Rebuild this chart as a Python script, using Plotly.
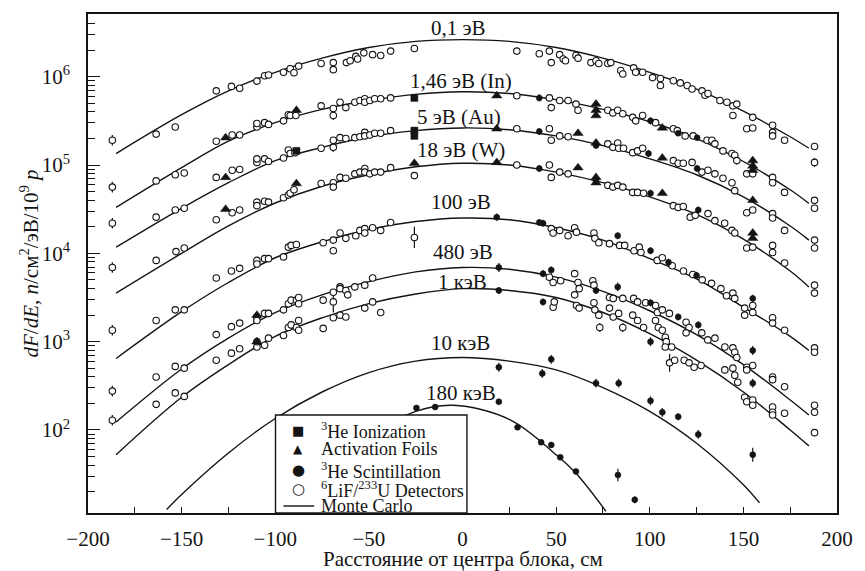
import plotly.graph_objects as go

# ---------------- Monte Carlo curves (x in cm, y as log10 of flux) ----------------
mc_x = [-185, -150, -125, -100, -75, -50, -25, 0, 25, 50, 75, 100, 125, 150, 175, 185]
mc_01 = [5.13, 5.57, 5.84, 6.05, 6.21, 6.33, 6.40, 6.42, 6.40, 6.33, 6.21, 6.05, 5.86, 5.61, 5.32, 5.19]
mc_146 = [4.52, 4.97, 5.27, 5.48, 5.63, 5.73, 5.80, 5.83, 5.81, 5.74, 5.63, 5.49, 5.30, 5.04, 4.72, 4.565]
mc_5 = [4.07, 4.51, 4.80, 5.05, 5.20, 5.32, 5.39, 5.42, 5.40, 5.33, 5.22, 5.07, 4.89, 4.64, 4.31, 4.15]
mc_18 = [3.55, 4.00, 4.31, 4.57, 4.76, 4.89, 4.98, 5.02, 5.00, 4.92, 4.80, 4.64, 4.44, 4.16, 3.80, 3.62]
mc_100 = [2.81, 3.34, 3.67, 3.95, 4.13, 4.27, 4.36, 4.40, 4.38, 4.29, 4.15, 3.94, 3.71, 3.39, 3.06, 2.90]
mc_480 = [2.09, 2.69, 3.04, 3.33, 3.53, 3.68, 3.79, 3.84, 3.82, 3.73, 3.57, 3.35, 3.08, 2.74, 2.34, 2.17]
mc_1k = [1.72, 2.37, 2.74, 3.06, 3.27, 3.43, 3.54, 3.60, 3.58, 3.50, 3.33, 3.09, 2.79, 2.43, 2.00, 1.82]
mc_10k_x = [-158, -150, -125, -100, -75, -50, -25, 0, 25, 50, 75, 100, 125, 150, 158.6]
mc_10k = [1.10, 1.27, 1.74, 2.13, 2.43, 2.65, 2.78, 2.82, 2.78, 2.68, 2.48, 2.21, 1.85, 1.38, 1.175]
mc_180k_x = [-90, -75, -50, -25, -5, 25, 50, 60.6, 76.6]
mc_180k = [0.98, 1.40, 1.92, 2.21, 2.28, 2.12, 1.72, 1.51, 1.08]

# ---------------- measured points: (x, log10 y, log10 half error) ----------------
lif_01 = [(-187, 5.28, 0.06), (-163.6, 5.35, 0), (-153.4, 5.43, 0), (-131.5, 5.84, 0), (-123.4, 5.89, 0),
          (-119, 5.87, 0), (-109.8, 5.95, 0), (-105.7, 6.01, 0), (-103.6, 6.02, 0), (-95.6, 6.05, 0),
          (-92, 6.09, 0), (-90, 6.045, 0), (-87.5, 6.12, 0), (-75.5, 6.15, 0), (-69, 6.16, 0), (-69, 6.08, 0),
          (-62, 6.16, 0), (-60, 6.18, 0), (-57, 6.23, 0), (-56, 6.20, 0), (-52.7, 6.27, 0), (-48, 6.25, 0),
          (-43.7, 6.24, 0), (-38.4, 6.29, 0), (-25.7, 6.32, 0), (29, 6.29, 0), (41, 6.26, 0), (46.4, 6.29, 0),
          (47.4, 6.16, 0), (51.9, 6.25, 0), (53.8, 6.20, 0), (55, 6.18, 0), (60.6, 6.24, 0), (61.7, 6.21, 0),
          (68.6, 6.16, 0), (71.3, 6.18, 0), (72.8, 6.15, 0), (77.6, 6.15, 0), (79.2, 6.16, 0), (84.5, 6.07, 0),
          (85.6, 6.03, 0), (91.4, 6.10, 0), (92.5, 6.05, 0), (96.2, 6.05, 0), (101.5, 5.99, 0), (105.7, 5.98, 0.04),
          (105.7, 5.90, 0), (112.6, 5.955, 0), (116.3, 5.93, 0), (120, 5.90, 0), (122.6, 5.86, 0), (127.9, 5.84, 0),
          (129.5, 5.79, 0), (131.1, 5.81, 0), (137.5, 5.73, 0), (141.2, 5.71, 0), (144.4, 5.67, 0), (146.5, 5.69, 0),
          (144.4, 5.56, 0), (151.8, 5.41, 0), (155, 5.42, 0), (155, 5.54, 0), (165.6, 5.45, 0), (165.6, 5.37, 0),
          (165.6, 5.33, 0), (172, 5.28, 0), (188, 5.21, 0), (188, 5.03, 0.05)]
lif_146 = [(-187, 4.75, 0.06), (-163.6, 4.82, 0), (-153.4, 4.89, 0), (-148.6, 4.91, 0), (-131.5, 5.27, 0),
           (-123, 5.34, 0), (-119, 5.34, 0), (-109.8, 5.43, 0), (-109.8, 5.47, 0), (-105.7, 5.48, 0),
           (-103.6, 5.46, 0), (-95.6, 5.50, 0), (-93, 5.57, 0), (-92, 5.56, 0), (-89, 5.56, 0), (-75.5, 5.67, 0),
           (-69, 5.64, 0), (-69, 5.56, 0.05), (-65.4, 5.71, 0), (-62.3, 5.65, 0), (-57.5, 5.71, 0), (-54.8, 5.73, 0),
           (-52.2, 5.75, 0), (-52.2, 5.71, 0), (-49.5, 5.73, 0), (-46.9, 5.75, 0), (-43.7, 5.75, 0), (-38.4, 5.76, 0),
           (29, 5.785, 0), (46.4, 5.76, 0), (47.4, 5.65, 0), (51.9, 5.73, 0), (56.4, 5.73, 0), (60.6, 5.69, 0),
           (61.7, 5.62, 0), (77.6, 5.62, 0), (80.3, 5.59, 0), (82.9, 5.62, 0), (85.6, 5.58, 0), (90.9, 5.54, 0),
           (92.5, 5.50, 0), (96.2, 5.56, 0), (103.1, 5.48, 0), (112.6, 5.41, 0), (114.7, 5.39, 0), (118.9, 5.33, 0),
           (123.2, 5.33, 0), (130.6, 5.28, 0), (133.2, 5.28, 0), (134.8, 5.24, 0), (139.1, 5.16, 0), (143.9, 5.13, 0),
           (145.4, 5.11, 0), (146.5, 5.05, 0.04), (151.8, 4.90, 0), (155, 4.90, 0), (165.6, 4.86, 0), (165.6, 4.80, 0),
           (172, 4.69, 0), (188, 4.60, 0), (188, 4.51, 0)]
lif_5 = [(-187, 4.34, 0.06), (-163.6, 4.41, 0), (-153.4, 4.49, 0), (-148.6, 4.51, 0), (-131.5, 4.86, 0),
         (-123, 4.94, 0), (-119, 4.95, 0), (-109.8, 5.03, 0), (-109.8, 5.07, 0), (-105.7, 5.07, 0), (-103.6, 5.04, 0),
         (-95.6, 5.08, 0), (-93, 5.17, 0), (-92, 5.13, 0), (-89.5, 5.14, 0), (-75.5, 5.19, 0), (-69, 5.28, 0),
         (-69, 5.20, 0.05), (-65.4, 5.31, 0), (-62.3, 5.30, 0), (-57.5, 5.31, 0), (-54.8, 5.32, 0), (-52.2, 5.37, 0),
         (-52.2, 5.33, 0), (-49.5, 5.34, 0), (-46.9, 5.36, 0), (-43.7, 5.36, 0), (-38.4, 5.39, 0), (29, 5.41, 0),
         (46.4, 5.41, 0), (47.4, 5.28, 0.04), (51.9, 5.33, 0), (56.4, 5.32, 0), (77.6, 5.24, 0), (80.3, 5.20, 0),
         (82.9, 5.25, 0), (83.4, 5.19, 0), (86, 5.19, 0), (90.9, 5.14, 0), (93.5, 5.16, 0), (96.2, 5.19, 0),
         (112.6, 5.05, 0), (115.2, 5.02, 0), (117.9, 5.02, 0), (122.6, 5.03, 0), (127.9, 4.92, 0), (131.1, 4.94, 0),
         (134.8, 4.90, 0), (139.1, 4.85, 0), (143.9, 4.80, 0), (145.4, 4.71, 0.04), (151.8, 4.46, 0), (155, 4.49, 0),
         (165.6, 4.45, 0), (165.6, 4.40, 0), (172, 4.26, 0), (188, 4.15, 0), (188, 4.06, 0)]
lif_18 = [(-187, 3.84, 0.06), (-163.6, 3.92, 0), (-153, 4.02, 0), (-148.6, 4.06, 0), (-131.5, 4.38, 0),
          (-123, 4.46, 0), (-119, 4.49, 0), (-109.8, 4.58, 0), (-109.8, 4.54, 0), (-105.7, 4.59, 0), (-103.6, 4.58, 0),
          (-95.6, 4.63, 0), (-93, 4.66, 0), (-92, 4.68, 0), (-90, 4.72, 0), (-75.5, 4.79, 0), (-69, 4.80, 0),
          (-69, 4.75, 0), (-65.4, 4.86, 0), (-62.3, 4.85, 0), (-57.5, 4.90, 0), (-54.8, 4.92, 0), (-52.2, 4.96, 0),
          (-52.2, 4.92, 0), (-49.5, 4.90, 0), (-46.9, 4.92, 0), (-43.7, 4.92, 0), (-38.4, 4.97, 0), (-25.7, 4.88, 0.03),
          (29, 5.0, 0), (46.4, 5.0, 0), (47.4, 4.86, 0.04), (51.9, 4.92, 0), (56.4, 4.90, 0), (77.6, 4.77, 0),
          (80.3, 4.75, 0), (82.9, 4.77, 0), (85.6, 4.75, 0), (90.9, 4.69, 0), (93.5, 4.69, 0), (96.7, 4.68, 0),
          (112.6, 4.54, 0), (115.2, 4.52, 0), (117.9, 4.53, 0), (121.6, 4.41, 0), (124.3, 4.43, 0), (131.1, 4.45, 0),
          (134.8, 4.37, 0), (140, 4.34, 0), (143.9, 4.26, 0), (145.4, 4.23, 0), (151.8, 4.06, 0), (155, 4.07, 0),
          (165.6, 4.09, 0), (165.6, 4.01, 0), (172, 3.89, 0), (188, 3.64, 0), (188, 3.55, 0)]
lif_100 = [(-187, 3.13, 0.06), (-163.6, 3.24, 0), (-153.4, 3.36, 0), (-148.6, 3.36, 0), (-131.5, 3.72, 0),
           (-123.4, 3.80, 0), (-119, 3.83, 0), (-109.8, 3.92, 0), (-109.8, 3.88, 0), (-105.7, 3.94, 0),
           (-103.6, 3.94, 0), (-95.6, 3.96, 0), (-93, 4.07, 0), (-91.5, 4.09, 0), (-88.7, 4.10, 0), (-74.4, 4.12, 0),
           (-69, 4.15, 0), (-69, 4.03, 0), (-65.4, 4.23, 0), (-62.3, 4.17, 0), (-57, 4.20, 0), (-54.8, 4.26, 0),
           (-52.2, 4.28, 0), (-52.2, 4.23, 0), (-48, 4.29, 0), (-43.7, 4.26, 0), (-38.4, 4.35, 0), (-25.7, 4.18, 0.12),
           (47.4, 4.28, 0), (48.4, 4.23, 0), (51.9, 4.26, 0), (59.9, 4.29, 0), (60.9, 4.24, 0), (56.4, 4.20, 0),
           (70.2, 4.23, 0), (70.7, 4.17, 0), (72.8, 4.12, 0), (78.5, 4.11, 0), (83.9, 4.09, 0), (86.6, 4.09, 0),
           (91.6, 4.03, 0), (94.4, 4.07, 0), (95.3, 4.01, 0), (104, 3.92, 0), (106.7, 3.95, 0), (112, 3.86, 0),
           (118, 3.80, 0), (123, 3.76, 0), (128, 3.70, 0), (133, 3.66, 0), (138, 3.60, 0), (141, 3.52, 0),
           (144.4, 3.55, 0), (145.4, 3.49, 0), (150.7, 3.38, 0), (150.7, 3.30, 0), (155, 3.33, 0), (155, 3.41, 0),
           (165.6, 3.27, 0), (165.6, 3.21, 0), (172, 3.13, 0), (188, 2.93, 0), (188, 2.88, 0)]
lif_480 = [(-187, 2.44, 0.06), (-163.6, 2.60, 0), (-153.4, 2.72, 0), (-148.6, 2.70, 0.04), (-131.5, 3.08, 0),
           (-123.4, 3.17, 0), (-119, 3.21, 0), (-109.8, 3.28, 0), (-109.8, 3.24, 0), (-105.7, 3.32, 0),
           (-103.6, 3.32, 0), (-95.6, 3.36, 0), (-93, 3.43, 0), (-91.5, 3.47, 0), (-88.7, 3.47, 0), (-87.5, 3.43, 0),
           (-87.5, 3.50, 0), (-74.4, 3.47, 0), (-69, 3.56, 0), (-69, 3.45, 0.12), (-65.4, 3.62, 0), (-65.4, 3.60, 0),
           (-62.3, 3.58, 0), (-61.3, 3.53, 0), (-57.5, 3.62, 0), (-52.2, 3.64, 0), (-48, 3.72, 0), (46.4, 3.73, 0),
           (48.4, 3.67, 0), (52.4, 3.69, 0), (59.9, 3.77, 0), (61.7, 3.67, 0), (62.3, 3.60, 0), (69.6, 3.69, 0),
           (70.2, 3.64, 0), (78.5, 3.50, 0), (80.5, 3.49, 0), (85.6, 3.49, 0), (91.4, 3.49, 0), (93.5, 3.45, 0),
           (97.8, 3.44, 0), (103.1, 3.41, 0), (104.1, 3.33, 0), (106.7, 3.36, 0), (110.5, 3.32, 0), (119.4, 3.22, 0),
           (121, 3.16, 0), (119.4, 3.10, 0), (127.8, 3.10, 0), (131, 3.02, 0), (134.8, 3.04, 0), (140.1, 2.94, 0),
           (144.4, 2.93, 0), (145.4, 2.88, 0), (146.5, 2.82, 0), (151.8, 2.71, 0), (151.8, 2.68, 0), (155, 2.73, 0),
           (165.6, 2.60, 0), (165.6, 2.57, 0), (172, 2.49, 0), (188, 2.28, 0), (188, 2.20, 0)]
lif_1k = [(-187, 2.11, 0.06), (-163.6, 2.29, 0), (-153.4, 2.42, 0), (-148.6, 2.38, 0.04), (-131.5, 2.79, 0),
          (-123.4, 2.87, 0), (-119, 2.92, 0), (-109.8, 2.94, 0), (-109.8, 3.0, 0), (-105.7, 2.96, 0), (-103.6, 3.04, 0),
          (-95.6, 3.07, 0), (-93, 3.16, 0), (-91.5, 3.19, 0), (-88.7, 3.16, 0), (-87.5, 3.24, 0), (-87.5, 3.13, 0),
          (-74.4, 3.15, 0.04), (-69, 3.27, 0), (-65.4, 3.30, 0), (-62.3, 3.28, 0), (-52.2, 3.38, 0), (-48, 3.45, 0),
          (-43.7, 3.33, 0), (48.4, 3.39, 0), (49, 3.45, 0), (59.9, 3.53, 0), (60.9, 3.41, 0), (62.3, 3.38, 0),
          (70.2, 3.44, 0), (70.7, 3.36, 0), (72.8, 3.30, 0), (73.3, 3.16, 0.05), (78.5, 3.38, 0), (80.5, 3.28, 0),
          (83.4, 3.32, 0), (85.6, 3.16, 0.05), (90.9, 3.30, 0), (93.5, 3.24, 0), (96.7, 3.16, 0), (103.1, 3.24, 0),
          (104.6, 3.16, 0), (106.7, 3.13, 0), (108.3, 3.05, 0), (108.8, 3.0, 0), (108.3, 2.94, 0), (111.7, 2.94, 0),
          (110.6, 2.76, 0.1), (113.3, 2.79, 0), (118.4, 2.79, 0), (121, 2.76, 0), (123.7, 2.71, 0), (127.4, 2.73, 0),
          (140.1, 2.68, 0), (144.4, 2.70, 0), (145.4, 2.62, 0), (147, 2.54, 0), (150.7, 2.37, 0), (151.8, 2.32, 0),
          (155, 2.34, 0), (155, 2.28, 0), (165.6, 2.26, 0), (165.6, 2.20, 0), (165.6, 2.17, 0), (172, 2.19, 0),
          (188, 1.97, 0)]

he3_scint = [(41, 5.76, 0.04), (100.4, 5.50, 0.04), (115.2, 5.36, 0.03), (125.3, 5.31, 0.03),
             (41, 5.38, 0.04), (71.3, 5.22, 0.03), (99.3, 5.13, 0.04), (125.3, 4.96, 0.04),
             (41, 4.96, 0.04), (71.3, 4.82, 0.04), (100.4, 4.68, 0.04), (125.9, 4.49, 0.04),
             (18.3, 4.41, 0.04), (41, 4.35, 0.04), (43, 4.34, 0.04), (82.9, 4.20, 0.04), (100.4, 4.03, 0.04),
             (155, 3.49, 0.04), (110, 3.90, 0.04), (125, 3.75, 0.04),
             (19.4, 3.84, 0.05), (43, 3.77, 0.04), (47.4, 3.81, 0.04), (71.3, 3.58, 0.04), (82.9, 3.62, 0.05),
             (100.4, 3.44, 0.04), (115.2, 3.28, 0.04), (125.9, 3.19, 0.04), (155, 2.90, 0.05),
             (19.4, 3.58, 0.04), (43, 3.45, 0.04), (100.4, 3.0, 0.05), (155, 2.53, 0.05),
             (19.4, 2.71, 0.05), (42.6, 2.64, 0.05), (47.4, 2.80, 0.05), (71.3, 2.53, 0.05), (83.4, 2.53, 0.05),
             (100.4, 2.33, 0.05), (106.7, 2.20, 0.05), (115.2, 2.15, 0.04), (125.9, 1.95, 0.05), (155, 1.72, 0.08),
             (-24.6, 2.25, 0.03), (-14.6, 2.26, 0.03), (19.4, 2.32, 0.03), (29.4, 2.03, 0.03), (42, 1.86, 0.03),
             (47.4, 1.83, 0.03), (52.2, 1.69, 0.03), (60.6, 1.53, 0.03), (83, 1.49, 0.07), (92, 1.21, 0.04)]
foils = [(-126.5, 5.31), (-88.7, 5.62), (18.3, 5.785), (71.3, 5.69), (71.3, 5.62), (71.3, 5.56), (106.7, 5.42),
         (155, 5.05), (155, 4.99), (155, 4.94),
         (-126.5, 4.86), (18.3, 5.41), (61.7, 5.36), (71.3, 5.25), (106.7, 5.08), (155, 4.60),
         (-126.5, 4.50), (-88.7, 4.79), (-25.7, 5.02), (18.3, 5.03), (61.7, 4.97), (71.3, 4.86), (71.3, 4.80),
         (106.7, 4.68), (155, 4.23), (155, 4.17),
         (-109.8, 3.30), (-109.8, 3.00)]
he3_ion = [(-25.7, 5.76), (-88.7, 5.16), (-25.7, 5.39), (-25.7, 5.33)]

curve_labels = ["0,1 эВ", "1,46 эВ (In)", "5 эВ (Au)", "18 эВ (W)", "100 эВ", "480 эВ", "1 кэВ", "10 кэВ", "180 кэВ"]
label_x = [-2, -1, -2, -1, -1, 0, 0, -1, -1]
label_logy = [6.55, 5.955, 5.54, 5.175, 4.576, 4.01, 3.67, 2.99, 2.42]

legend_labels = ["<sup>3</sup>He Ionization", "Activation Foils", "<sup>3</sup>He Scintillation",
                 "<sup>6</sup>LiF/<sup>233</sup>U Detectors", "Monte Carlo"]
legend_glyphs = ["■", "▲", "●", "○"]

x_ticks = [-200, -150, -100, -50, 0, 50, 100, 150, 200]
y_ticks = [1e2, 1e3, 1e4, 1e5, 1e6]
y_ticktext = ["10<sup>2</sup>", "10<sup>3</sup>", "10<sup>4</sup>", "10<sup>5</sup>", "10<sup>6</sup>"]

INK = "#141414"
SERIF = "Liberation Serif"
fig = go.Figure()


def err_arrays(vals, errs):
    plus = [v * (10 ** e - 1) for v, e in zip(vals, errs)]
    minus = [v * (1 - 10 ** (-e)) for v, e in zip(vals, errs)]
    return plus, minus


# Monte Carlo curves
for cx, cy in [(mc_x, mc_01), (mc_x, mc_146), (mc_x, mc_5), (mc_x, mc_18), (mc_x, mc_100),
               (mc_x, mc_480), (mc_x, mc_1k), (mc_10k_x, mc_10k), (mc_180k_x, mc_180k)]:
    fig.add_trace(go.Scatter(x=cx, y=[10 ** v for v in cy], mode="lines",
                             line=dict(color=INK, width=1.4, shape="spline", smoothing=1.0),
                             showlegend=False, hoverinfo="skip"))


def add_points(pts, symbol, size, fill, lw=1.0):
    xs = [p[0] for p in pts]
    vals = [10 ** p[1] for p in pts]
    errs = [p[2] if len(p) > 2 else 0 for p in pts]
    plus, minus = err_arrays(vals, errs)
    fig.add_trace(go.Scatter(x=xs, y=vals, mode="markers",
                             marker=dict(symbol=symbol, size=size, color=fill, line=dict(color=INK, width=lw)),
                             error_y=dict(type="data", symmetric=False, array=plus, arrayminus=minus,
                                          color=INK, thickness=1.2, width=0),
                             showlegend=False, hoverinfo="skip"))


for pts in [lif_01, lif_146, lif_5, lif_18, lif_100, lif_480, lif_1k]:
    add_points(pts, "circle", 6.5, "white", 1.1)
add_points(he3_scint, "circle", 6, INK, 0.5)
add_points(foils, "triangle-up", 9, INK, 0.5)
add_points(he3_ion, "square", 7, INK, 0.5)

# curve labels
for t, lx, ly in zip(curve_labels, label_x, label_logy):
    fig.add_annotation(x=lx, y=ly, xref="x", yref="y", text=t, showarrow=False,
                       font=dict(size=21, color=INK, family=SERIF))

# ---- hand-built legend box (pixel layout converted to paper fractions) ----
PL, PR, PT, PB = 88, 843, 14, 513


def px_x(p):
    return (p - PL) / (PR - PL)


def px_y(p):
    return (PB - p) / (PB - PT)


fig.add_shape(type="rect", xref="paper", yref="paper", x0=px_x(277), x1=px_x(470), y0=px_y(513), y1=px_y(415),
              fillcolor="white", line=dict(color=INK, width=1.4), layer="above")
rows_py = [430, 449, 470, 489, 506]
glyph_sizes = [13, 12, 15, 15]
for i, lab in enumerate(legend_labels):
    fig.add_annotation(x=px_x(321), y=px_y(rows_py[i]), xref="paper", yref="paper", text=lab,
                       showarrow=False, xanchor="left", yanchor="middle",
                       font=dict(size=18, color=INK, family=SERIF))
for i, g in enumerate(legend_glyphs):
    fig.add_annotation(x=px_x(300), y=px_y(rows_py[i]), xref="paper", yref="paper", text=g,
                       showarrow=False, xanchor="center", yanchor="middle",
                       font=dict(size=glyph_sizes[i], color=INK, family="DejaVu Sans"))
fig.add_shape(type="line", xref="paper", yref="paper", x0=px_x(285), x1=px_x(316),
              y0=px_y(rows_py[4]), y1=px_y(rows_py[4]), line=dict(color=INK, width=1.4), layer="above")

# axis titles as annotations for exact placement
fig.add_annotation(x=px_x(466), y=px_y(559), xref="paper", yref="paper", text="Расстояние от центра блока, см",
                   showarrow=False, xanchor="center", yanchor="middle",
                   font=dict(size=21, color=INK, family=SERIF))
fig.add_annotation(x=px_x(29), y=px_y(263), xref="paper", yref="paper", textangle=-90,
                   text="<i>dF</i>/<i>dE</i>, <i>n</i>/см<sup>2</sup>/эВ/10<sup>9</sup> <i>p</i>",
                   showarrow=False, xanchor="center", yanchor="middle",
                   font=dict(size=21, color=INK, family=SERIF))

minor_y = [m * 10 ** d for d in range(1, 7) for m in range(2, 10)]

fig.update_layout(
    width=865, height=571,
    margin=dict(l=PL, r=865 - PR, t=PT, b=571 - PB),
    paper_bgcolor="white", plot_bgcolor="white",
    font=dict(family=SERIF, color=INK, size=20),
    showlegend=False,
    xaxis=dict(range=[-200, 200], tickvals=x_ticks, ticks="inside", ticklen=6, tickcolor=INK,
               minor=dict(ticks="inside", ticklen=6, tickvals=[-175, -125, -75, -25, 25, 75, 125, 175],
                          tickcolor=INK),
               showline=True, mirror=True, linecolor=INK, linewidth=1.5, showgrid=False, zeroline=False,
               ticklabelstandoff=6, tickfont=dict(size=21)),
    yaxis=dict(type="log", range=[1.06, 6.71], tickvals=y_ticks, ticktext=y_ticktext, ticks="inside",
               ticklen=12, tickcolor=INK,
               minor=dict(ticks="inside", ticklen=7, tickvals=minor_y, tickcolor=INK),
               showline=True, mirror=True, linecolor=INK, linewidth=1.5, showgrid=False, zeroline=False,
               ticklabelstandoff=12, tickfont=dict(size=21)),
)

fig.write_html("out.html")
